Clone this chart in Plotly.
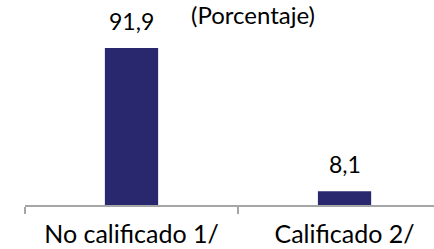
import plotly.graph_objects as go

categories = ["No calificado 1/", "Calificado 2/"]
values = [91.9, 8.1]
value_labels = ["91,9", "8,1"]
subtitle = "(Porcentaje)"

BAR_COLOR = "#29286F"
FONT = "Lato, Carlito, Calibri, sans-serif"

fig = go.Figure()
fig.add_trace(go.Bar(
    x=categories, y=values, marker_color=BAR_COLOR,
    marker_line_width=0, width=0.25, hoverinfo="skip",
))

for c, v, t in zip(categories, values, value_labels):
    fig.add_annotation(x=c, y=v, text=t, showarrow=False, yanchor="middle",
                       yshift=27.5, font=dict(family=FONT, size=23, color="#000000"))

fig.add_annotation(x=0.557, y=0.93, xref="paper", yref="paper", text=subtitle,
                   showarrow=False, xanchor="center", yanchor="middle",
                   font=dict(family=FONT, size=24, color="#000000"))

fig.update_layout(
    width=434, height=249,
    margin=dict(l=25, r=0, t=0, b=44),
    paper_bgcolor="white", plot_bgcolor="white",
    showlegend=False,
    font=dict(family=FONT, size=25, color="#000000"),
    bargap=0.75,
)
fig.update_xaxes(
    type="category", range=[-0.5, 1.42],
    showline=True, linecolor="#A6A6A6", linewidth=2,
    ticks="outside", tickson="boundaries", ticklen=7, tickwidth=2, tickcolor="#A6A6A6",
    showgrid=False, zeroline=False, ticklabelstandoff=6,
    tickfont=dict(family=FONT, size=25, color="#000000"),
)
fig.update_yaxes(visible=False, range=[0, 120], showgrid=False, zeroline=False)

fig.write_html("out.html", config={"displayModeBar": False, "staticPlot": True},
               post_script="document.body.style.margin='0';")
